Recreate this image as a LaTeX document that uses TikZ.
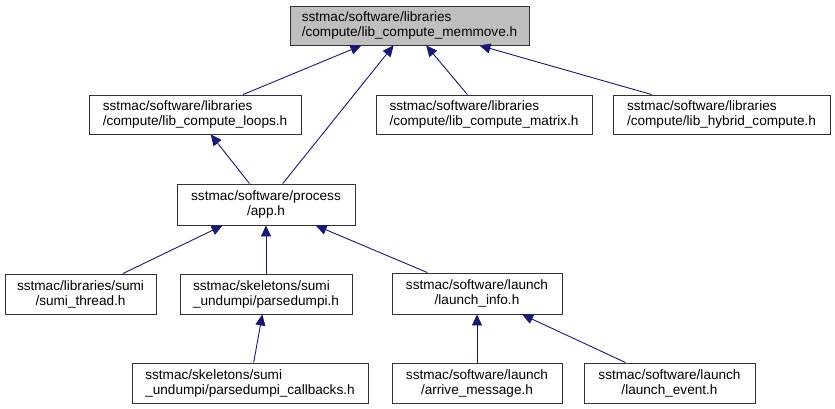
\documentclass[tikz,border=0pt]{standalone}
\usepackage{fontspec}
\setmainfont{Liberation Sans}
\usepackage{xcolor}
\usetikzlibrary{arrows.meta}
\definecolor{edgeblue}{HTML}{191970}
\definecolor{curgray}{HTML}{BFBFBF}

\tikzset{
  file/.style={draw=black!80, fill=white, line width=0.9pt, inner sep=0pt,
    font=\fontsize{13.6}{15}\selectfont},
  dep/.style={draw=edgeblue, line width=0.9pt,
    {Triangle[length=11pt,width=10pt]}-}
}

\begin{document}
\begin{tikzpicture}[x=1pt,y=-1pt]
    \useasboundingbox (0,0) rectangle (835,409);
    % current file
    \node[file, fill=curgray, align=left, minimum width=239pt, minimum height=39pt] (memmove) at (409.5,25.5) {sstmac/software/libraries\\/compute/lib\_compute\_memmove.h};
    % row 2
    \node[file, align=left, minimum width=212pt, minimum height=39pt] (loops) at (195,114.5) {sstmac/software/libraries\\/compute/lib\_compute\_loops.h};
    \node[file, align=left, minimum width=216pt, minimum height=39pt] (matrix) at (484,114.5) {sstmac/software/libraries\\/compute/lib\_compute\_matrix.h};
    \node[file, align=left, minimum width=217pt, minimum height=39pt] (hybrid) at (721.5,114.5) {sstmac/software/libraries\\/compute/lib\_hybrid\_compute.h};
    % row 3
    \node[file, align=center, minimum width=178pt, minimum height=41pt] (app) at (266,204.5) {sstmac/software/process\\/app.h};
    % row 4
    \node[file, align=center, minimum width=151pt, minimum height=40pt] (sumithread) at (80.5,294) {sstmac/libraries/sumi\\/sumi\_thread.h};
    \node[file, align=left, minimum width=172pt, minimum height=40pt] (parsedumpi) at (266,294) {sstmac/skeletons/sumi\\\_undumpi/parsedumpi.h};
    \node[file, align=center, minimum width=170pt, minimum height=41pt] (launchinfo) at (477,293.5) {sstmac/software/launch\\/launch\_info.h};
    % row 5
    \node[file, align=left, minimum width=236pt, minimum height=40pt] (callbacks) at (250,383) {sstmac/skeletons/sumi\\\_undumpi/parsedumpi\_callbacks.h};
    \node[file, align=center, minimum width=170pt, minimum height=40pt] (arrive) at (477,383) {sstmac/software/launch\\/arrive\_message.h};
    \node[file, align=center, minimum width=171pt, minimum height=40pt] (launchevent) at (669.5,383) {sstmac/software/launch\\/launch\_event.h};

    \foreach \a/\b in {memmove/loops,memmove/app,memmove/matrix,memmove/hybrid,loops/app,app/sumithread,app/parsedumpi,app/launchinfo,parsedumpi/callbacks,launchinfo/arrive,launchinfo/launchevent} { \draw[dep] (\a) -- (\b); }
\end{tikzpicture}
\end{document}
